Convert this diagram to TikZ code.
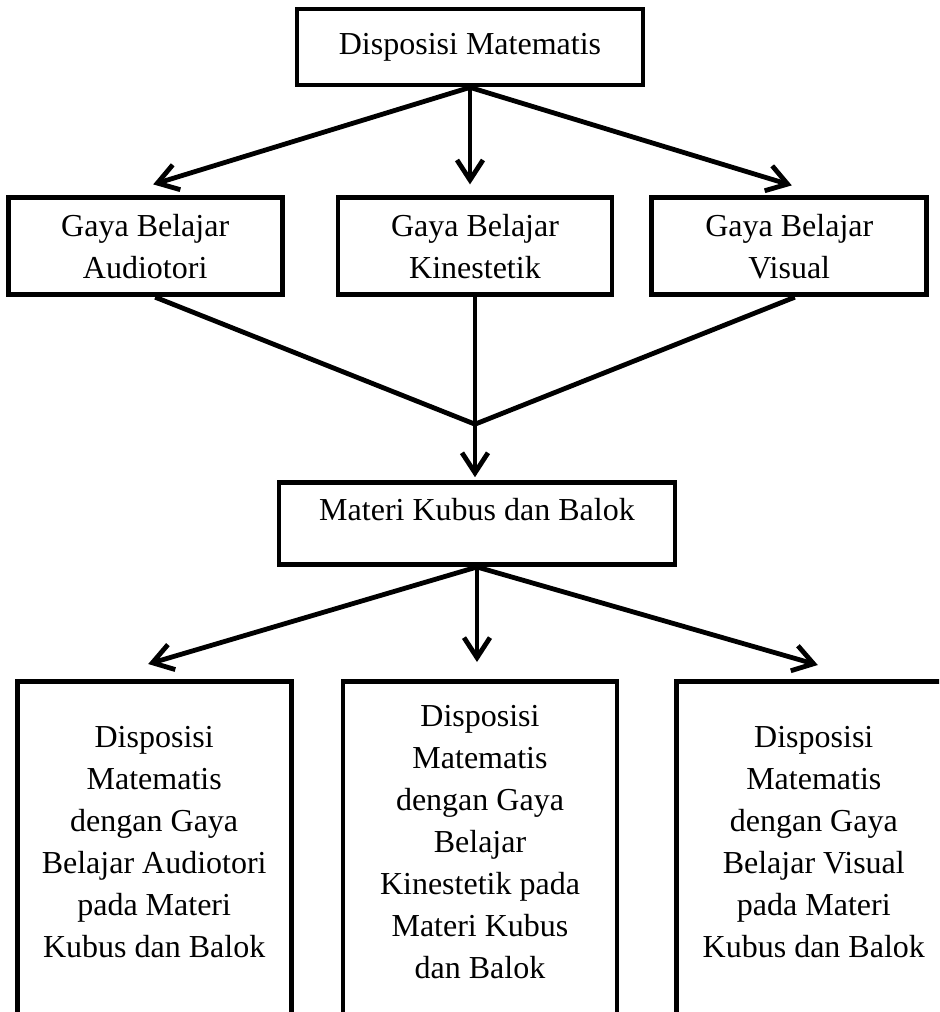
\documentclass[tikz,border=0pt]{standalone}
\usepackage{fontspec}
\setmainfont{Liberation Serif}
\usepackage{tikz}
\usetikzlibrary{arrows.meta,positioning}

\begin{document}
\begin{tikzpicture}[>={Straight Barb[length=10pt,width=13pt]}, line width=2.4pt,
	kotak/.style={draw, rectangle, align=center, inner sep=4pt,
		font=\fontsize{16pt}{21pt}\selectfont},
	kotakbawah/.style={kotak, minimum width=137pt, minimum height=181pt, anchor=north}]
	\useasboundingbox (-235pt,23.5pt) rectangle (234.5pt,-482.5pt);
	\clip (-235pt,23.5pt) rectangle (234.5pt,-482.5pt);

	\node[kotak, minimum width=173pt, minimum height=38pt] (disp) {Disposisi Matematis};

	\node[kotak, minimum width=137pt, minimum height=48.5pt] (kin) [below=54pt of disp, xshift=2.5pt] {Gaya Belajar\\Kinestetik};
	\node[kotak, minimum width=137pt, minimum height=48.5pt] (aud) [left=25.5pt of kin] {Gaya Belajar\\Audiotori};
	\node[kotak, minimum width=137.5pt, minimum height=48.5pt] (vis) [right=17.5pt of kin] {Gaya Belajar\\Visual};

	\coordinate[below=63.5pt of kin] (join);

	\node[kotak, minimum width=198pt, minimum height=41pt, text depth=14.5pt] (materi) [below=91.5pt of kin, xshift=1pt] {Materi Kubus dan Balok};

	\node[kotakbawah] (kb) [below=56pt of materi, xshift=1.5pt] {Disposisi\\Matematis\\dengan Gaya\\Belajar\\Kinestetik pada\\Materi Kubus\\dan Balok\\ \mbox{}};
	\node[kotakbawah] (ab) [left=23.5pt of kb] {Disposisi\\Matematis\\dengan Gaya\\Belajar Audiotori\\pada Materi\\Kubus dan Balok\\ \mbox{}};
	\node[kotakbawah] (vb) [right=27.5pt of kb] {Disposisi\\Matematis\\dengan Gaya\\Belajar Visual\\pada Materi\\Kubus dan Balok\\ \mbox{}};

	\path[->]
	(disp.south) edge ([xshift=4pt,yshift=5.5pt]aud.north)
	(disp.south) edge [shorten >=5.5pt] (disp.south |- kin.north)
	(disp.south) edge ([xshift=1.25pt,yshift=5pt]vis.north)

	(join) edge [shorten >=1.5pt] (join |- materi.north)

	(materi.south) edge ([xshift=-3pt,yshift=7.5pt]ab.north)
	(materi.south) edge [shorten >=8.5pt] (materi.south |- kb.north)
	(materi.south) edge ([xshift=2pt,yshift=7pt]vb.north)
	;

	\draw ([xshift=5pt]aud.south) -- (join);
	\draw (kin.south) -- (join);
	\draw ([xshift=2.75pt]vis.south) -- (join);
\end{tikzpicture}
\end{document}
